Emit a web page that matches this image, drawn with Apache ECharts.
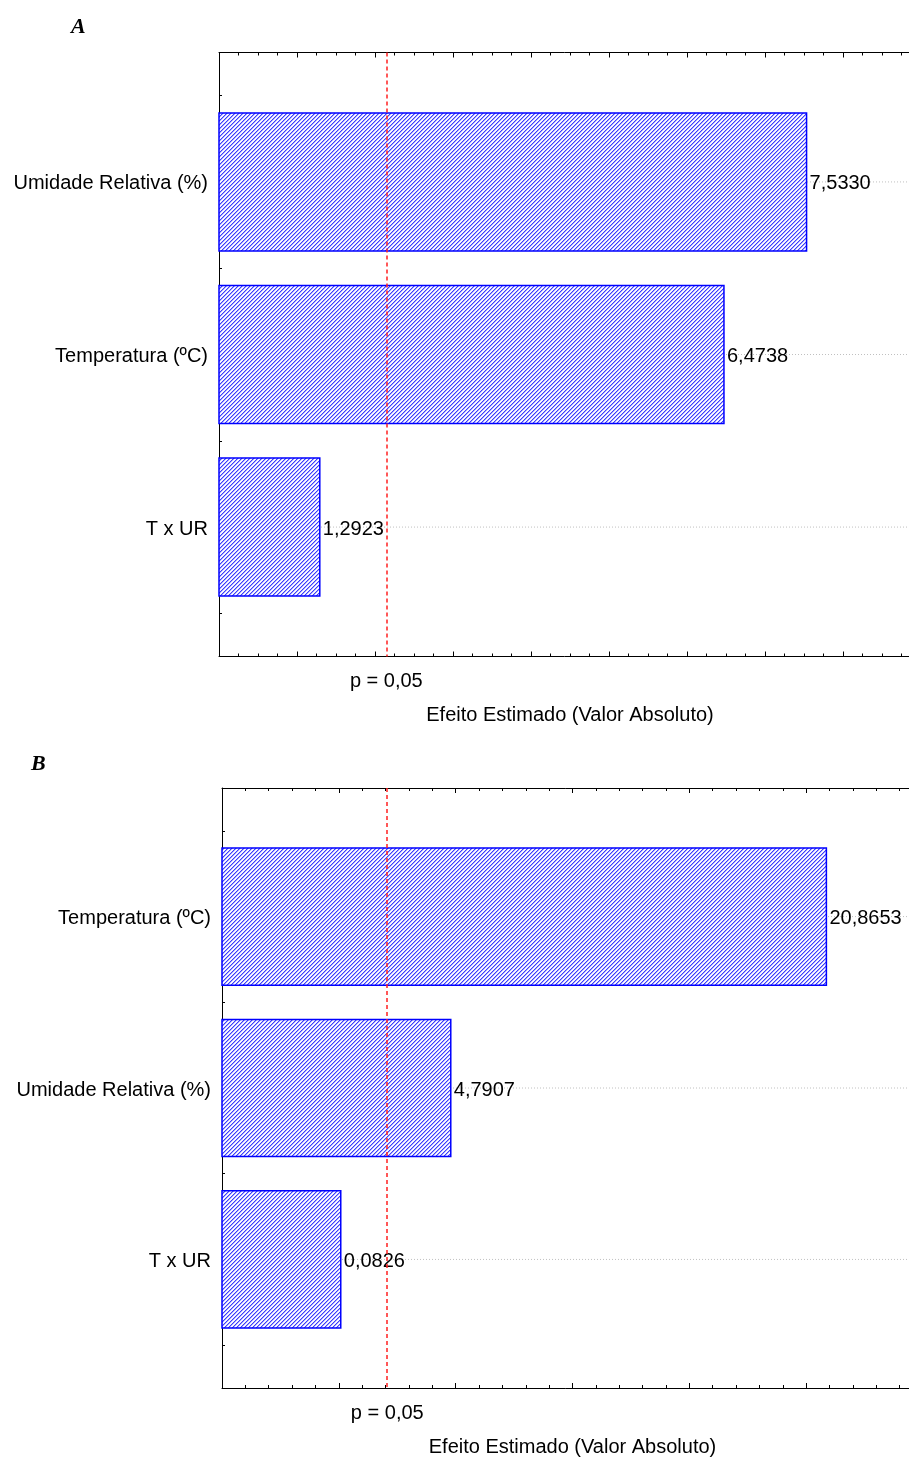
<!DOCTYPE html>
<html>
<head>
<meta charset="utf-8">
<script src="https://cdn.jsdelivr.net/npm/echarts@6/dist/echarts.min.js"></script>
<style>
html,body{margin:0;padding:0;background:#fff;}
#chart{width:909px;height:1457px;}
</style>
</head>
<body>
<div id="chart"></div>
<script>
// ---- data ----
const catsA = ['Umidade Relativa (%)', 'Temperatura (ºC)', 'T x UR'];
const valsA = [7.5330, 6.4738, 1.2923];
const catsB = ['Temperatura (ºC)', 'Umidade Relativa (%)', 'T x UR'];
const valsB = [20.8653, 4.7907, 0.0826];
const pCritA = 2.145;
const pCritB = 2.074;
const xRangeA = [0, 9];
const xRangeB = [-5, 25];
const pLabel = 'p = 0,05';
const xTitle = 'Efeito Estimado (Valor Absoluto)';
const panelTitles = ['A', 'B'];

// ---- styling helpers ----
const FONT = '"Liberation Sans", Arial, sans-serif';
function makeHatch() {
  const c = document.createElement('canvas');
  c.width = 4; c.height = 4;
  const g = c.getContext('2d');
  g.fillStyle = '#ffffff'; g.fillRect(0, 0, 4, 4);
  const cols = { 3: '#3c3cff', 0: '#a8a8ff', 2: '#ececff' };
  for (let y = 0; y < 4; y++) {
    for (let x = 0; x < 4; x++) {
      const k = (x + y) % 4;
      if (cols[k]) { g.fillStyle = cols[k]; g.fillRect(x, y, 1, 1); }
    }
  }
  return c;
}
const hatch = { image: makeHatch(), repeat: 'repeat' };
const fmt = v => v.toFixed(4).replace('.', ',');

function makeRender(xMin, xMax) {
  return function (params, api) {
    const v = api.value(0), idx = api.value(1);
    const p0 = api.coord([xMin, idx]);
    const p1 = api.coord([v, idx]);
    const pe = api.coord([xMax, idx]);
    const h = Math.abs(api.size([0, 0.8])[1]);
    return {
      type: 'group',
      children: [
        { type: 'line', shape: { x1: p0[0], y1: p0[1], x2: pe[0], y2: pe[1] },
          style: { stroke: '#c0c0c0', lineWidth: 1, lineDash: [1, 2] } },
        { type: 'rect', shape: { x: p0[0], y: p0[1] - h / 2, width: p1[0] - p0[0], height: h },
          style: { fill: hatch, stroke: '#0000ff', lineWidth: 1.5 } },
        { type: 'text', style: { text: fmt(v), x: p1[0] + 3, y: p1[1] + 2, verticalAlign: 'middle', align: 'left',
          fill: '#000', font: '20px ' + FONT } }
      ]
    };
  };
}

const grids = [
  { left: 219, top: 52.5, width: 702, height: 604, outerBoundsMode: 'none', containLabel: false },
  { left: 222, top: 788, width: 701, height: 600, outerBoundsMode: 'none', containLabel: false }
];
const panels = [
  { cats: catsA, vals: valsA, pc: pCritA, range: xRangeA, interval: 1, minor: 4 },
  { cats: catsB, vals: valsB, pc: pCritB, range: xRangeB, interval: 5, minor: 5 }
];

const xAxes = [], yAxes = [], series = [];
panels.forEach((p, i) => {
  const common = {
    type: 'value', gridIndex: i, min: p.range[0], max: p.range[1], interval: p.interval,
    axisLine: { show: true, onZero: false, lineStyle: { color: '#000', width: 1 } },
    axisTick: { show: true, inside: true, length: 5, lineStyle: { color: '#000' } },
    minorTick: { show: true, splitNumber: p.minor, length: 3, lineStyle: { color: '#000' } },
    splitLine: { show: false }
  };
  xAxes.push(Object.assign({}, common, {
    position: 'bottom',
    axisLabel: { show: true, customValues: [p.pc], formatter: () => pLabel,
      fontSize: 20, fontFamily: FONT, color: '#000', margin: 15 },
    name: xTitle, nameLocation: 'middle', nameGap: 49,
    nameTextStyle: { fontSize: 20, fontFamily: FONT, color: '#000' }
  }));
  xAxes.push(Object.assign({}, common, { position: 'top', axisLabel: { show: false } }));
  yAxes.push({
    type: 'value', gridIndex: i, min: -0.75, max: 2.75, interval: 0.25, inverse: true,
    axisLine: { show: true, onZero: false, lineStyle: { color: '#000', width: 1 } },
    axisTick: { show: true, inside: true, length: 3, lineStyle: { color: '#000' } },
    axisLabel: { show: true, customValues: [0, 1, 2], formatter: v => '{c|' + p.cats[Math.round(v)] + '}',
      color: '#000', margin: 11,
      rich: { c: { fontSize: 20, fontFamily: FONT, color: '#000', padding: [4, 0, 0, 0] } } },
    splitLine: { show: false }
  });
  series.push({
    type: 'custom', xAxisIndex: i * 2, yAxisIndex: i, z: 2,
    renderItem: makeRender(p.range[0], p.range[1]),
    data: p.vals.map((v, k) => [v, k]),
    markLine: {
      silent: true, symbol: 'none', z: 5, animation: false,
      label: { show: false },
      lineStyle: { color: '#ff2020', width: 1.5, type: [4, 3] },
      data: [{ xAxis: p.pc }]
    }
  });
});

const chart = echarts.init(document.getElementById('chart'), null, { renderer: 'canvas' });
chart.setOption({
  animation: false,
  backgroundColor: '#fff',
  title: [
    { text: panelTitles[0], left: 71, top: 16, padding: 0,
      textStyle: { fontFamily: '"Liberation Serif", "Times New Roman", serif', fontStyle: 'italic', fontWeight: 'bold', fontSize: 22, color: '#000' } },
    { text: panelTitles[1], left: 31, top: 753, padding: 0,
      textStyle: { fontFamily: '"Liberation Serif", "Times New Roman", serif', fontStyle: 'italic', fontWeight: 'bold', fontSize: 22, color: '#000' } }
  ],
  grid: grids,
  xAxis: xAxes,
  yAxis: yAxes,
  series: series
});
</script>
</body>
</html>
